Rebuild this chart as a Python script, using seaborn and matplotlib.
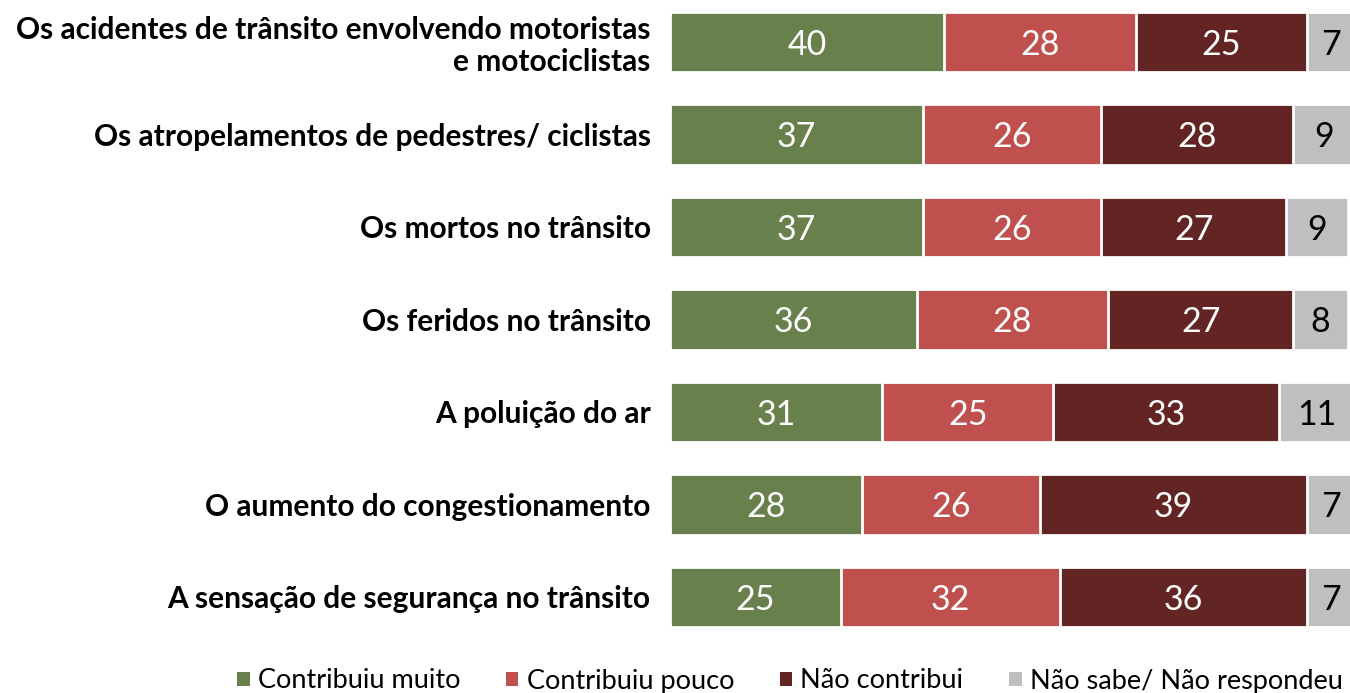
import numpy as np
import pandas as pd
import matplotlib
matplotlib.use("Agg")
import matplotlib.pyplot as plt
from matplotlib.patches import Patch
import seaborn as sns

categories = [
    "Os acidentes de trânsito envolvendo motoristas\ne motociclistas",
    "Os atropelamentos de pedestres/ ciclistas",
    "Os mortos no trânsito",
    "Os feridos no trânsito",
    "A poluição do ar",
    "O aumento do congestionamento",
    "A sensação de segurança no trânsito",
]
series = ["Contribuiu muito", "Contribuiu pouco", "Não contribui", "Não sabe/ Não respondeu"]
contribuiu_muito = [40, 37, 37, 36, 31, 28, 25]
contribuiu_pouco = [28, 26, 26, 28, 25, 26, 32]
nao_contribui = [25, 28, 27, 27, 33, 39, 36]
nao_sabe = [7, 9, 9, 8, 11, 7, 7]

colors = ["#68804C", "#C0504D", "#632523", "#BFBFBF"]
text_colors = ["white", "white", "white", "black"]

sns.set_theme(style="white")
plt.rcParams["font.family"] = ["Lato", "DejaVu Sans"]

values = np.array([contribuiu_muito, contribuiu_pouco, nao_contribui, nao_sabe], dtype=float)
cum = np.cumsum(values, axis=0)

fig = plt.figure(figsize=(13.5, 6.93), dpi=100)
ax = fig.add_axes([670 / 1350, (693 - 640) / 693, 680 / 1350, 640 / 693])

# Stacked bars: draw cumulative totals from the widest down so each layer sits on top
for i in range(len(series) - 1, -1, -1):
    df = pd.DataFrame({"categoria": categories, "valor": cum[i]})
    sns.barplot(data=df, x="valor", y="categoria", orient="h", color=colors[i],
                saturation=1, width=0.65, edgecolor="white", linewidth=2, ax=ax)

# Value labels centred in each segment
for i in range(len(series)):
    for j in range(len(categories)):
        center = cum[i][j] - values[i][j] / 2
        ax.text(center, j, f"{int(values[i][j])}", ha="center", va="center_baseline",
                color=text_colors[i], fontsize=24.5)

ax.set_xlim(0, 99.3)
ax.set_ylim(6.465, -0.454)
ax.set_xlabel("")
ax.set_ylabel("")
ax.set_xticks([])
ax.tick_params(axis="y", length=0, pad=14)
for lab in ax.get_yticklabels():
    lab.set_fontweight("bold")
    lab.set_fontsize(21.5)
    lab.set_color("black")
    lab.set_multialignment("right")
    lab.set_linespacing(1.15)
for s in ax.spines.values():
    s.set_visible(False)

handles = [Patch(facecolor=c, edgecolor="none") for c in colors]
fig.legend(handles, series, loc="center", bbox_to_anchor=(790 / 1350, 1 - 681 / 693),
           ncol=4, frameon=False, fontsize=19.5, handlelength=0.45, handleheight=0.45,
           handletextpad=0.3, columnspacing=1.7, labelcolor="black")

fig.savefig("out.png", dpi=100)
